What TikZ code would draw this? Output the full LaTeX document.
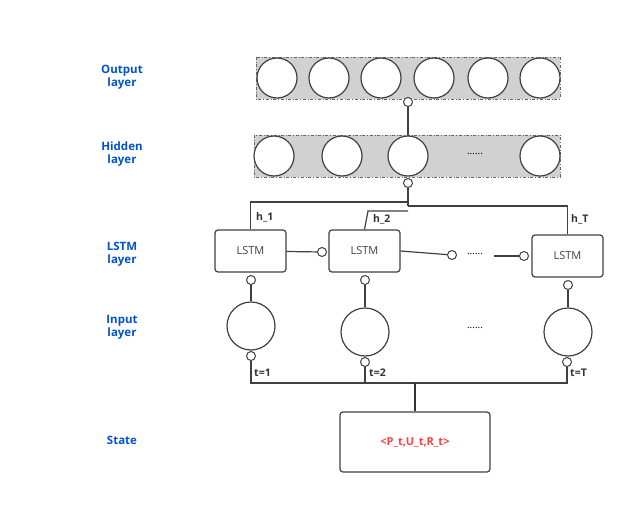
\documentclass[tikz,border=0pt]{standalone}
\usepackage{fontspec}
\setmainfont{Open Sans}
\begin{document}
\begin{tikzpicture}[x=1pt,y=-1pt,
 lbl/.style={font=\bfseries\fontsize{11.5}{13}\selectfont,text=blue!60!cyan!80!black,align=center},
 neu/.style={circle,draw=black!75,line width=1.2pt,fill=white,minimum size=40pt,inner sep=0},
 big/.style={circle,draw=black!75,line width=1.2pt,fill=white,minimum size=48pt,inner sep=0},
 port/.style={circle,draw=black!75,line width=1pt,fill=white,minimum size=9pt,inner sep=0},
 lstm/.style={rounded corners=3pt,draw=black!75,line width=1.2pt,fill=white,minimum width=71pt,minimum height=42pt,font=\fontsize{11}{13}\selectfont,text=black!75},
 band/.style={draw=black!60,dash dot,fill=black!18,line width=0.8pt},
 ln/.style={draw=black!75,line width=1.2pt},
 sm/.style={font=\bfseries\fontsize{10.5}{12}\selectfont,text=black!80,anchor=west,inner sep=0}]
\useasboundingbox (0,0) rectangle (642,524);
\node[lbl] (lo) at (122,77) {Output\\layer};
\node[lbl] (lh) at (122,154) {Hidden\\layer};
\node[lbl] (ll) at (122,254) {LSTM\\layer};
\node[lbl] (li) at (122,327) {Input\\layer};
\node[lbl] (ls) at (122,440) {State};
\draw[band] (256,57) rectangle (560,99);
\draw[band] (254,135) rectangle (560,177);
\foreach \x [count=\i] in {277,329,381,434,488,540} \node[neu] (o\i) at (\x,78) {};
\foreach \x [count=\i] in {274,342,408,540} \node[neu] (h\i) at (\x,156) {};
\node (hd) at (475,154) {......};
\node[port] (po) at (408,102) {};
\draw[ln] (po) -- (h3);
\node[port] (ph) at (408,183) {};
\node[lstm] (L1) at (250.5,251) {LSTM};
\node[lstm] (L2) at (364.5,251) {LSTM};
\node[lstm] (L3) at (567.5,256) {LSTM};
\coordinate (j1) at (408,202);
\coordinate (j2) at (408,206);
\coordinate (j3) at (408,211);
\draw[ln] (ph) -- (j2);
\draw[ln] (L1.north) -- (250.5,202) -- (j1);
\draw[ln] (j2) -- (567.5,206) -- (L3.north);
\draw[ln] (L2.north) -- (368,211) -- (j3);
\node[sm] (t1) at (256,217) {h\_1};
\node[sm] (t2) at (373,219) {h\_2};
\node[sm] (t3) at (571,219) {h\_T};
\node[port] (c1) at (322,252) {};
\draw[ln] (L1) -- (c1);
\node[port] (c2) at (452,255) {};
\node[port] (c3) at (524,256) {};
\draw[ln] (L2.east) -- (c2);
\node (ld) at (475,254) {......};
\draw[ln] (494,256) -- (c3);
\node[port] (p1) at (251,280) {};
\node[port] (p2) at (365,280) {};
\node[port] (p3) at (568,285) {};
\node[big] (i1) at (251,326) {};
\node[big] (i2) at (365,332) {};
\node[big] (i3) at (568,332) {};
\node (id) at (475,328) {......};
\draw[ln] (p1)--(i1) (p2)--(i2) (p3)--(i3);
\node[port] (q1) at (251,356) {};
\node[port] (q2) at (365,362) {};
\node[port] (q3) at (567,362) {};
\draw[ln] (q1) -- (251,383) -- (567,383) -- (q3);
\draw[ln] (q2) -- (365,383);
\node[sm] at (254,373) {t=1};
\node[sm] at (369,373) {t=2};
\node[sm] at (570,373) {t=T};
\node[rounded corners=3pt,draw=black!75,line width=1.2pt,minimum width=150pt,minimum height=60pt,font=\bfseries\fontsize{11}{13}\selectfont,text=red!75] (st) at (415,442) {<P\_t,U\_t,R\_t>};
\draw[draw=black!80,line width=2.2pt] (415,383) -- (st.north);
\end{tikzpicture}
\end{document}
